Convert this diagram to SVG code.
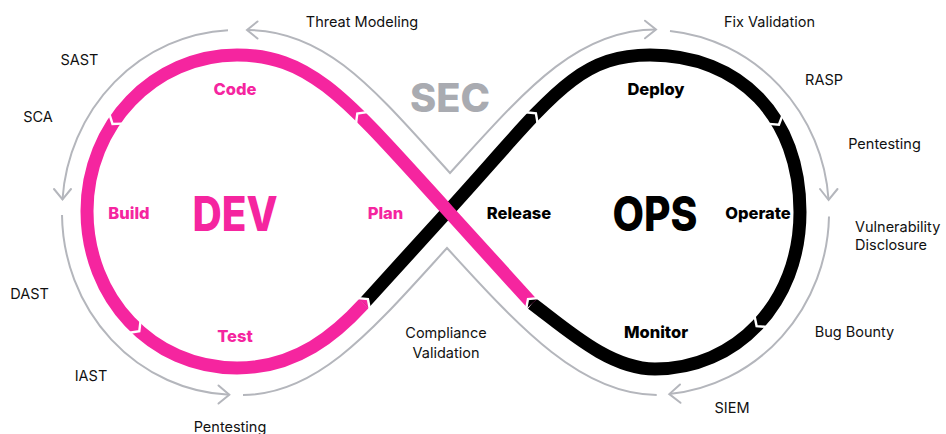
<svg xmlns="http://www.w3.org/2000/svg" width="946" height="434" viewBox="0 0 946 434">
  <defs>
    <style>
      .band { fill: none; stroke-width: 13; stroke-linecap: butt; stroke-linejoin: round; }
      .dev { stroke: #f5259f; }
      .ops { stroke: #000000; }
      .gap { fill: none; stroke: #ffffff; stroke-width: 2.4; stroke-linejoin: miter; }
      .sec { fill: none; stroke: #b4b6bc; stroke-width: 2; stroke-linejoin: miter; stroke-linecap: butt; }
      .head { fill: none; stroke: #b4b6bc; stroke-width: 2; stroke-linejoin: miter; stroke-linecap: round; }
      .lbl { font-family: Inter, "Noto Sans", sans-serif; font-size: 14.5px; fill: #111111; text-anchor: middle; }
      .stage { font-family: Inter, "Noto Sans", sans-serif; font-size: 16.5px; font-weight: 800; text-anchor: middle; }
      .big { font-family: Inter, "Noto Sans", sans-serif; font-weight: 800; text-anchor: middle; }
      .pink { fill: #f5259f; }
      .dark { fill: #000000; }
    </style>
  </defs>
  <rect width="946" height="434" fill="#ffffff"/>

  <!-- outer security loop (thin grey track with open arrowheads) -->
  <g id="connectors">
    <path class="sec" d="M 247,30 C 327,30 376,91.6 450,173 C 524,91.6 576,29.5 656,29.5"/>
    <path class="sec" d="M 228,30.2 A 175 182.5 0 0 0 62.45,199.5"/>
    <path class="sec" d="M 62,215 A 175 182.5 0 0 0 229.3,394.8"/>
    <path class="sec" d="M 243,394.9 C 318,394.9 373,329.4 447,248 C 521,329.4 582,394.9 656.7,394.9"/>
    <path class="sec" d="M 670,30.95 A 177 182.5 0 0 1 828.6,200"/>
    <path class="sec" d="M 829,216.5 A 177 182.5 0 0 1 669.3,394.1"/>
    <polyline class="head" points="257.5,21.5 247,30 257.5,38.5"/>
    <polyline class="head" points="54,189 62.5,199.5 71,189"/>
    <polyline class="head" points="218.5,385.5 229.3,394.8 218.5,403.5"/>
    <polyline class="head" points="645,20.7 656,29.5 645,38.3"/>
    <polyline class="head" points="820,189 828.6,200 837.5,189"/>
    <polyline class="head" points="680,384.5 669.3,394.1 680.5,402.8"/>
  </g>

  <!-- infinity band: OPS loop first, DEV loop drawn over it at the crossing -->
  <g id="band">
    <path class="band ops" d="M 363.9,303.5 L 448,211 C 549,100 575,55 650,55 C 740,55 800,117 800,212 C 800,304 735,369 655,369 C 610,369 568,330.5 532,303.5"/>
    <path class="band dev" d="M 532,303.5 L 448,211 C 347,100 312,55 237,55 C 154,55 87,125 87,211 C 87,297 151,368 237,368 C 297,368 337,333 363.9,303.5"/>
    <!-- colour hand-over tips -->
    <polygon fill="#f5259f" points="368.7,307.9 367.9,299.1 359.1,299.1"/>
    <polygon fill="#000000" points="536.8,299.1 528,299.1 527.2,307.9"/>
    <!-- chevron breaks between stages -->
    <polyline class="gap" points="369.8,308.9 367.9,299.1 358,298.1"/>
    <polyline class="gap" points="537.9,298.1 528,299.1 526.1,308.9"/>
    <polyline class="gap" points="367.2,112.1 357.3,113.6 356,123.5"/>
    <polyline class="gap" points="122.5,123.6 112.5,123.9 109.5,114.4"/>
    <polyline class="gap" points="129.5,332.8 139.3,331.1 140.5,321.2"/>
    <polyline class="gap" points="537.6,123.3 535.9,113.4 526,112.3"/>
    <polyline class="gap" points="768.9,123.9 778.9,124.7 782.5,115.3"/>
    <polyline class="gap" points="754.6,316.3 756.6,326.1 766.6,326.9"/>
  </g>

  <!-- headings -->
  <g id="dev"><text class="big pink" x="235" y="231" font-size="48" textLength="85" lengthAdjust="spacingAndGlyphs">DEV</text></g>
  <g id="ops"><text class="big dark" x="655" y="231" font-size="48" textLength="85" lengthAdjust="spacingAndGlyphs">OPS</text></g>
  <g id="sec"><text class="big" x="450" y="112" font-size="39" fill="#a9abb1" textLength="80" lengthAdjust="spacingAndGlyphs">SEC</text></g>

  <!-- stages -->
  <g id="plan"><text class="stage pink" x="385.5" y="219">Plan</text></g>
  <g id="code"><text class="stage pink" x="235" y="95">Code</text></g>
  <g id="build"><text class="stage pink" x="129" y="219">Build</text></g>
  <g id="test"><text class="stage pink" x="235" y="342">Test</text></g>
  <g id="release"><text class="stage dark" x="519" y="219">Release</text></g>
  <g id="deploy"><text class="stage dark" x="656" y="95">Deploy</text></g>
  <g id="operate"><text class="stage dark" x="758" y="219">Operate</text></g>
  <g id="monitor"><text class="stage dark" x="656" y="338">Monitor</text></g>

  <!-- security practices -->
  <g id="threat-modeling"><text class="lbl" x="362" y="27">Threat Modeling</text></g>
  <g id="sast"><text class="lbl" x="79.5" y="65">SAST</text></g>
  <g id="sca"><text class="lbl" x="38" y="122">SCA</text></g>
  <g id="dast"><text class="lbl" x="29.5" y="299">DAST</text></g>
  <g id="iast"><text class="lbl" x="91" y="381">IAST</text></g>
  <g id="pentesting-dev"><text class="lbl" x="230" y="432">Pentesting</text></g>
  <g id="compliance-validation"><text class="lbl" x="446" y="338">Compliance</text><text class="lbl" x="446" y="358">Validation</text></g>
  <g id="fix-validation"><text class="lbl" x="769.5" y="27">Fix Validation</text></g>
  <g id="rasp"><text class="lbl" x="824" y="85">RASP</text></g>
  <g id="pentesting-ops"><text class="lbl" x="884.5" y="149">Pentesting</text></g>
  <g id="vulnerability-disclosure"><text class="lbl" x="855" y="232" style="text-anchor:start">Vulnerability</text><text class="lbl" x="855" y="250" style="text-anchor:start">Disclosure</text></g>
  <g id="bug-bounty"><text class="lbl" x="854.5" y="337">Bug Bounty</text></g>
  <g id="siem"><text class="lbl" x="732" y="413">SIEM</text></g>
</svg>
